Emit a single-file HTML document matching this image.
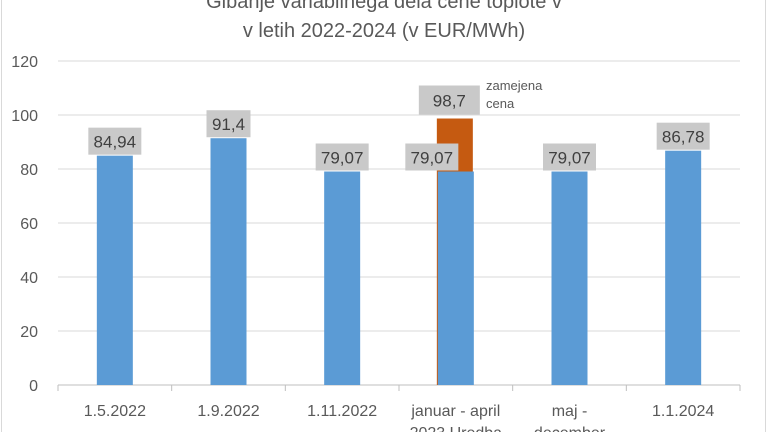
<!DOCTYPE html>
<html><head><meta charset="utf-8"><style>
body{margin:0;background:#fff;}
svg text{font-family:"Liberation Sans",sans-serif;}
</style></head><body>
<svg width="768" height="432">
<rect x="1.5" y="-2" width="764" height="440" fill="#fff" stroke="#d9d9d9"/>
<text x="384" y="8" font-size="20" fill="#595959" text-anchor="middle">Gibanje variabilnega dela cene toplote v</text>
<text x="384" y="37" font-size="20" fill="#595959" text-anchor="middle">v letih 2022-2024 (v EUR/MWh)</text>
<g id="grid"></g><g id="bars"></g><g id="labels"></g>
<text x="486" y="90" font-size="13" fill="#595959"><tspan x="486">zamejena</tspan><tspan x="486" dy="18">cena</tspan></text>
</svg>
<script>
const categories=["1.5.2022","1.9.2022","1.11.2022","januar - april|2023 Uredba","maj -|december","1.1.2024"];
const values=[84.94,91.4,79.07,79.07,79.07,86.78];
const labels=["84,94","91,4","79,07","79,07","79,07","86,78"];
const cappedValue=98.7;
const cappedLabel="98,7";
const cappedIndex=3;
const yTicks=[0,20,40,60,80,100,120];
const NS="http://www.w3.org/2000/svg";
const x0=58,x1=740,yb=385,yt=61,ymax=120;
const bw=(x1-x0)/categories.length;
const y=v=>yb-(yb-yt)*v/ymax;
const cx=i=>x0+bw*(i+0.5);
function mk(t,a,p){const e=document.createElementNS(NS,t);for(const k in a)e.setAttribute(k,a[k]);document.getElementById(p).appendChild(e);return e;}
yTicks.forEach(v=>{
 const l=mk('line',{x1:x0,x2:x1,y1:y(v),y2:y(v),stroke:v===0?'#bfbfbf':'#d9d9d9'},'grid');
 
 
 const t=mk('text',{x:38,y:y(v)+6,'font-size':16,fill:'#595959','text-anchor':'end'},'grid');
 t.textContent=v;
 
 
});
for(let i=0;i<=categories.length;i++){
 const l=mk('line',{x1:x0+bw*i,x2:x0+bw*i,y1:yb,y2:yb+6,stroke:'#bfbfbf'},'grid');
 
 
}
categories.forEach((c,i)=>{
 c.split('|').forEach((s,j)=>{
  const t=mk('text',{x:cx(i),y:416+j*22,'font-size':16,fill:'#595959','text-anchor':'middle'},'grid');
  t.textContent=s;
  
  
 });
});
// capped bar
{const r=mk('rect',{x:cx(cappedIndex)-19,y:y(cappedValue),width:36,height:yb-y(cappedValue),fill:'#c55a11'},'bars');


const b=mk('rect',{x:cx(cappedIndex)-37,y:y(cappedValue)-33,width:61,height:29,fill:'#c9c9c9'},'labels');


const t=mk('text',{x:cx(cappedIndex)-6.5,y:y(cappedValue)-12,'font-size':17,fill:'#404040','text-anchor':'middle'},'labels');
t.textContent=cappedLabel;

}
values.forEach((v,i)=>{
 const w=36,r=mk('rect',{x:cx(i)-18,y:y(v),width:w,height:yb-y(v),fill:'#5b9bd5'},'bars');
 
 
 const off=i===cappedIndex?-24:0;
 const bwid=labels[i].length*9+8;
 const b=mk('rect',{x:cx(i)+off-bwid/2,y:y(v)-28,width:bwid,height:27,fill:'#c9c9c9'},'labels');
 
 
 const t=mk('text',{x:cx(i)+off,y:y(v)-8,'font-size':17,fill:'#404040','text-anchor':'middle'},'labels');
 t.textContent=labels[i];
 
 
});
</script>
</body></html>
